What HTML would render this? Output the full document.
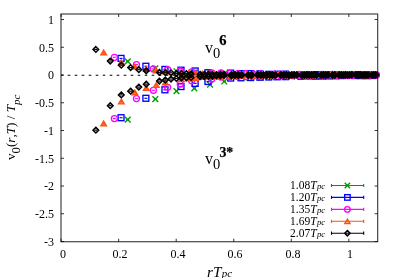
<!DOCTYPE html>
<html><head><meta charset="utf-8"><title>plot</title>
<style>
html,body{margin:0;padding:0;background:#fff}
#c{position:relative;width:398px;height:278px;overflow:hidden;background:#fff;font-family:"Liberation Serif",serif;color:#000}
.t{position:absolute;will-change:transform;white-space:nowrap;line-height:14px;font-size:12px}
.yl{right:344.4px;text-align:right}
.xl{width:40px;text-align:center;top:246.6px}
.lg{right:73.0px;text-align:right;font-size:11.5px}
.sb{font-size:8.7px;position:relative;top:0.2px;left:0.4px}
.big{font-size:16px;line-height:18px}
.sb0{font-size:14.5px;position:relative;top:5.2px}
.sp{-webkit-text-stroke:0.25px #000;font-size:14.5px;position:relative;top:-8.1px;left:-1.0px}
.sp3{font-size:13.8px;top:-7.5px;left:-0.8px}
.xt{left:206.5px;top:264.0px;font-size:15.2px;font-style:italic;line-height:16px}
.sbx{font-size:11px;position:relative;top:0.2px;left:0.3px}
.yt{left:3.9px;top:160.4px;transform-origin:0 0;transform:rotate(-90deg);font-size:13.2px;line-height:14px}
.sby{font-size:12.6px;position:relative;top:4.6px}
.sby2{font-size:11px;position:relative;top:4.5px}
</style></head><body>
<div id="c">
<svg width="398" height="278" viewBox="0 0 398 278" style="position:absolute;left:0;top:0">
<rect width="398" height="278" fill="#fff"/>
<path d="M61.0 75.25H377.65" stroke="#000" stroke-width="1.1" stroke-dasharray="2.6 4.4" stroke-dashoffset="0.3" fill="none"/>
<g><path d="M124.81 116.71L130.61 122.51M124.81 122.51L130.61 116.71" stroke="#009a00" stroke-width="1.35" fill="none"/><path d="M126.21 119.61H129.21" stroke="#009a00" stroke-width="1.15"/><path d="M152.40 96.21L158.20 102.01M152.40 102.01L158.20 96.21" stroke="#009a00" stroke-width="1.35" fill="none"/><path d="M153.80 99.11H156.80" stroke="#009a00" stroke-width="1.15"/><path d="M173.57 88.19L179.37 93.99M173.57 93.99L179.37 88.19" stroke="#009a00" stroke-width="1.35" fill="none"/><path d="M174.97 91.09H177.97" stroke="#009a00" stroke-width="1.15"/><path d="M191.42 85.48L197.22 91.28M191.42 91.28L197.22 85.48" stroke="#009a00" stroke-width="1.35" fill="none"/><path d="M192.82 88.38H195.82" stroke="#009a00" stroke-width="1.15"/><path d="M207.14 81.70L212.94 87.50M207.14 87.50L212.94 81.70" stroke="#009a00" stroke-width="1.35" fill="none"/><path d="M208.54 84.60H211.54" stroke="#009a00" stroke-width="1.15"/><path d="M221.36 78.59L227.16 84.39M221.36 84.39L227.16 78.59" stroke="#009a00" stroke-width="1.35" fill="none"/><path d="M222.76 81.49H225.76" stroke="#009a00" stroke-width="1.15"/><path d="M246.60 74.99L252.40 80.79M246.60 80.79L252.40 74.99" stroke="#009a00" stroke-width="1.35" fill="none"/><path d="M248.00 77.89H251.00" stroke="#009a00" stroke-width="1.15"/><path d="M258.03 74.65L263.83 80.45M258.03 80.45L263.83 74.65" stroke="#009a00" stroke-width="1.35" fill="none"/><path d="M259.43 77.55H262.43" stroke="#009a00" stroke-width="1.15"/><path d="M268.84 74.32L274.64 80.12M268.84 80.12L274.64 74.32" stroke="#009a00" stroke-width="1.35" fill="none"/><path d="M270.24 77.22H273.24" stroke="#009a00" stroke-width="1.15"/><path d="M279.12 74.04L284.92 79.84M279.12 79.84L284.92 74.04" stroke="#009a00" stroke-width="1.35" fill="none"/><path d="M280.52 76.94H283.52" stroke="#009a00" stroke-width="1.15"/><path d="M288.94 73.66L294.74 79.46M288.94 79.46L294.74 73.66" stroke="#009a00" stroke-width="1.35" fill="none"/><path d="M290.34 76.56H293.34" stroke="#009a00" stroke-width="1.15"/><path d="M298.36 73.57L304.16 79.37M298.36 79.37L304.16 73.57" stroke="#009a00" stroke-width="1.35" fill="none"/><path d="M299.76 76.47H302.76" stroke="#009a00" stroke-width="1.15"/><path d="M307.43 73.41L313.23 79.21M307.43 79.21L313.23 73.41" stroke="#009a00" stroke-width="1.35" fill="none"/><path d="M308.83 76.31H311.83" stroke="#009a00" stroke-width="1.15"/><path d="M324.64 73.24L330.44 79.04M324.64 79.04L330.44 73.24" stroke="#009a00" stroke-width="1.35" fill="none"/><path d="M326.04 76.14H329.04" stroke="#009a00" stroke-width="1.15"/><path d="M332.84 73.01L338.64 78.81M332.84 78.81L338.64 73.01" stroke="#009a00" stroke-width="1.35" fill="none"/><path d="M334.24 75.91H337.24" stroke="#009a00" stroke-width="1.15"/><path d="M340.80 72.70L346.60 78.50M340.80 78.50L346.60 72.70" stroke="#009a00" stroke-width="1.35" fill="none"/><path d="M342.20 75.60H345.20" stroke="#009a00" stroke-width="1.15"/><path d="M348.54 72.73L354.34 78.53M348.54 78.53L354.34 72.73" stroke="#009a00" stroke-width="1.35" fill="none"/><path d="M349.94 75.63H352.94" stroke="#009a00" stroke-width="1.15"/><path d="M356.08 72.56L361.88 78.36M356.08 78.36L361.88 72.56" stroke="#009a00" stroke-width="1.35" fill="none"/><path d="M357.48 75.46H360.48" stroke="#009a00" stroke-width="1.15"/><path d="M363.44 72.63L369.24 78.43M363.44 78.43L369.24 72.63" stroke="#009a00" stroke-width="1.35" fill="none"/><path d="M364.84 75.53H367.84" stroke="#009a00" stroke-width="1.15"/><path d="M370.62 72.55L376.42 78.35M370.62 78.35L376.42 72.55" stroke="#009a00" stroke-width="1.35" fill="none"/><path d="M372.02 75.45H375.02" stroke="#009a00" stroke-width="1.15"/><path d="M124.81 58.50L130.61 64.30M124.81 64.30L130.61 58.50" stroke="#009a00" stroke-width="1.35" fill="none"/><path d="M126.21 61.40H129.21" stroke="#009a00" stroke-width="1.15"/><path d="M152.40 65.46L158.20 71.26M152.40 71.26L158.20 65.46" stroke="#009a00" stroke-width="1.35" fill="none"/><path d="M153.80 68.36H156.80" stroke="#009a00" stroke-width="1.15"/><path d="M173.57 68.36L179.37 74.16M173.57 74.16L179.37 68.36" stroke="#009a00" stroke-width="1.35" fill="none"/><path d="M174.97 71.26H177.97" stroke="#009a00" stroke-width="1.15"/><path d="M191.42 69.67L197.22 75.47M191.42 75.47L197.22 69.67" stroke="#009a00" stroke-width="1.35" fill="none"/><path d="M192.82 72.57H195.82" stroke="#009a00" stroke-width="1.15"/><path d="M207.14 70.73L212.94 76.53M207.14 76.53L212.94 70.73" stroke="#009a00" stroke-width="1.35" fill="none"/><path d="M208.54 73.63H211.54" stroke="#009a00" stroke-width="1.15"/><path d="M221.36 70.77L227.16 76.57M221.36 76.57L227.16 70.77" stroke="#009a00" stroke-width="1.35" fill="none"/><path d="M222.76 73.67H225.76" stroke="#009a00" stroke-width="1.15"/><path d="M246.60 71.32L252.40 77.12M246.60 77.12L252.40 71.32" stroke="#009a00" stroke-width="1.35" fill="none"/><path d="M248.00 74.22H251.00" stroke="#009a00" stroke-width="1.15"/><path d="M258.03 71.47L263.83 77.27M258.03 77.27L263.83 71.47" stroke="#009a00" stroke-width="1.35" fill="none"/><path d="M259.43 74.37H262.43" stroke="#009a00" stroke-width="1.15"/><path d="M268.84 71.94L274.64 77.74M268.84 77.74L274.64 71.94" stroke="#009a00" stroke-width="1.35" fill="none"/><path d="M270.24 74.84H273.24" stroke="#009a00" stroke-width="1.15"/><path d="M279.12 72.04L284.92 77.84M279.12 77.84L284.92 72.04" stroke="#009a00" stroke-width="1.35" fill="none"/><path d="M280.52 74.94H283.52" stroke="#009a00" stroke-width="1.15"/><path d="M288.94 71.96L294.74 77.76M288.94 77.76L294.74 71.96" stroke="#009a00" stroke-width="1.35" fill="none"/><path d="M290.34 74.86H293.34" stroke="#009a00" stroke-width="1.15"/><path d="M298.36 71.94L304.16 77.74M298.36 77.74L304.16 71.94" stroke="#009a00" stroke-width="1.35" fill="none"/><path d="M299.76 74.84H302.76" stroke="#009a00" stroke-width="1.15"/><path d="M307.43 71.85L313.23 77.65M307.43 77.65L313.23 71.85" stroke="#009a00" stroke-width="1.35" fill="none"/><path d="M308.83 74.75H311.83" stroke="#009a00" stroke-width="1.15"/><path d="M324.64 71.96L330.44 77.76M324.64 77.76L330.44 71.96" stroke="#009a00" stroke-width="1.35" fill="none"/><path d="M326.04 74.86H329.04" stroke="#009a00" stroke-width="1.15"/><path d="M332.84 71.89L338.64 77.69M332.84 77.69L338.64 71.89" stroke="#009a00" stroke-width="1.35" fill="none"/><path d="M334.24 74.79H337.24" stroke="#009a00" stroke-width="1.15"/><path d="M340.80 72.10L346.60 77.90M340.80 77.90L346.60 72.10" stroke="#009a00" stroke-width="1.35" fill="none"/><path d="M342.20 75.00H345.20" stroke="#009a00" stroke-width="1.15"/><path d="M348.54 71.96L354.34 77.76M348.54 77.76L354.34 71.96" stroke="#009a00" stroke-width="1.35" fill="none"/><path d="M349.94 74.86H352.94" stroke="#009a00" stroke-width="1.15"/><path d="M356.08 71.96L361.88 77.76M356.08 77.76L361.88 71.96" stroke="#009a00" stroke-width="1.35" fill="none"/><path d="M357.48 74.86H360.48" stroke="#009a00" stroke-width="1.15"/><path d="M363.44 72.14L369.24 77.94M363.44 77.94L369.24 72.14" stroke="#009a00" stroke-width="1.35" fill="none"/><path d="M364.84 75.04H367.84" stroke="#009a00" stroke-width="1.15"/><path d="M370.62 71.75L376.42 77.55M370.62 77.55L376.42 71.75" stroke="#009a00" stroke-width="1.35" fill="none"/><path d="M372.02 74.65H375.02" stroke="#009a00" stroke-width="1.15"/></g>
<g><rect x="118.10" y="114.76" width="5.90" height="5.90" stroke="#0000ff" stroke-width="1.35" fill="none"/><path d="M119.55 117.71H122.55" stroke="#0000ff" stroke-width="1.15"/><rect x="142.93" y="95.32" width="5.90" height="5.90" stroke="#0000ff" stroke-width="1.35" fill="none"/><path d="M144.38 98.27H147.38" stroke="#0000ff" stroke-width="1.15"/><rect x="161.98" y="86.86" width="5.90" height="5.90" stroke="#0000ff" stroke-width="1.35" fill="none"/><path d="M163.43 89.81H166.43" stroke="#0000ff" stroke-width="1.15"/><rect x="178.05" y="83.63" width="5.90" height="5.90" stroke="#0000ff" stroke-width="1.35" fill="none"/><path d="M179.50 86.58H182.50" stroke="#0000ff" stroke-width="1.15"/><rect x="192.20" y="80.43" width="5.90" height="5.90" stroke="#0000ff" stroke-width="1.35" fill="none"/><path d="M193.65 83.38H196.65" stroke="#0000ff" stroke-width="1.15"/><rect x="204.99" y="78.54" width="5.90" height="5.90" stroke="#0000ff" stroke-width="1.35" fill="none"/><path d="M206.44 81.49H209.44" stroke="#0000ff" stroke-width="1.15"/><rect x="227.71" y="75.10" width="5.90" height="5.90" stroke="#0000ff" stroke-width="1.35" fill="none"/><path d="M229.16 78.05H232.16" stroke="#0000ff" stroke-width="1.15"/><rect x="237.99" y="74.83" width="5.90" height="5.90" stroke="#0000ff" stroke-width="1.35" fill="none"/><path d="M239.44 77.78H242.44" stroke="#0000ff" stroke-width="1.15"/><rect x="247.72" y="74.60" width="5.90" height="5.90" stroke="#0000ff" stroke-width="1.35" fill="none"/><path d="M249.17 77.55H252.17" stroke="#0000ff" stroke-width="1.15"/><rect x="256.97" y="74.27" width="5.90" height="5.90" stroke="#0000ff" stroke-width="1.35" fill="none"/><path d="M258.42 77.22H261.42" stroke="#0000ff" stroke-width="1.15"/><rect x="265.82" y="74.05" width="5.90" height="5.90" stroke="#0000ff" stroke-width="1.35" fill="none"/><path d="M267.27 77.00H270.27" stroke="#0000ff" stroke-width="1.15"/><rect x="274.30" y="73.83" width="5.90" height="5.90" stroke="#0000ff" stroke-width="1.35" fill="none"/><path d="M275.75 76.78H278.75" stroke="#0000ff" stroke-width="1.15"/><rect x="282.45" y="73.72" width="5.90" height="5.90" stroke="#0000ff" stroke-width="1.35" fill="none"/><path d="M283.90 76.67H286.90" stroke="#0000ff" stroke-width="1.15"/><rect x="297.94" y="73.28" width="5.90" height="5.90" stroke="#0000ff" stroke-width="1.35" fill="none"/><path d="M299.39 76.23H302.39" stroke="#0000ff" stroke-width="1.15"/><rect x="305.32" y="73.04" width="5.90" height="5.90" stroke="#0000ff" stroke-width="1.35" fill="none"/><path d="M306.77 75.99H309.77" stroke="#0000ff" stroke-width="1.15"/><rect x="312.49" y="73.23" width="5.90" height="5.90" stroke="#0000ff" stroke-width="1.35" fill="none"/><path d="M313.94 76.18H316.94" stroke="#0000ff" stroke-width="1.15"/><rect x="319.46" y="73.14" width="5.90" height="5.90" stroke="#0000ff" stroke-width="1.35" fill="none"/><path d="M320.91 76.09H323.91" stroke="#0000ff" stroke-width="1.15"/><rect x="326.25" y="72.99" width="5.90" height="5.90" stroke="#0000ff" stroke-width="1.35" fill="none"/><path d="M327.70 75.94H330.70" stroke="#0000ff" stroke-width="1.15"/><rect x="332.87" y="72.87" width="5.90" height="5.90" stroke="#0000ff" stroke-width="1.35" fill="none"/><path d="M334.32 75.82H337.32" stroke="#0000ff" stroke-width="1.15"/><rect x="339.33" y="72.68" width="5.90" height="5.90" stroke="#0000ff" stroke-width="1.35" fill="none"/><path d="M340.78 75.63H343.78" stroke="#0000ff" stroke-width="1.15"/><rect x="351.83" y="72.63" width="5.90" height="5.90" stroke="#0000ff" stroke-width="1.35" fill="none"/><path d="M353.28 75.58H356.28" stroke="#0000ff" stroke-width="1.15"/><rect x="357.89" y="72.69" width="5.90" height="5.90" stroke="#0000ff" stroke-width="1.35" fill="none"/><path d="M359.34 75.64H362.34" stroke="#0000ff" stroke-width="1.15"/><rect x="363.83" y="72.73" width="5.90" height="5.90" stroke="#0000ff" stroke-width="1.35" fill="none"/><path d="M365.28 75.68H368.28" stroke="#0000ff" stroke-width="1.15"/><rect x="369.65" y="72.62" width="5.90" height="5.90" stroke="#0000ff" stroke-width="1.35" fill="none"/><path d="M371.10 75.57H374.10" stroke="#0000ff" stroke-width="1.15"/><rect x="118.10" y="55.44" width="5.90" height="5.90" stroke="#0000ff" stroke-width="1.35" fill="none"/><path d="M119.55 58.39H122.55" stroke="#0000ff" stroke-width="1.15"/><rect x="142.93" y="63.30" width="5.90" height="5.90" stroke="#0000ff" stroke-width="1.35" fill="none"/><path d="M144.38 66.25H147.38" stroke="#0000ff" stroke-width="1.15"/><rect x="161.98" y="66.47" width="5.90" height="5.90" stroke="#0000ff" stroke-width="1.35" fill="none"/><path d="M163.43 69.42H166.43" stroke="#0000ff" stroke-width="1.15"/><rect x="178.05" y="67.25" width="5.90" height="5.90" stroke="#0000ff" stroke-width="1.35" fill="none"/><path d="M179.50 70.20H182.50" stroke="#0000ff" stroke-width="1.15"/><rect x="192.20" y="68.03" width="5.90" height="5.90" stroke="#0000ff" stroke-width="1.35" fill="none"/><path d="M193.65 70.98H196.65" stroke="#0000ff" stroke-width="1.15"/><rect x="204.99" y="69.77" width="5.90" height="5.90" stroke="#0000ff" stroke-width="1.35" fill="none"/><path d="M206.44 72.72H209.44" stroke="#0000ff" stroke-width="1.15"/><rect x="227.71" y="70.15" width="5.90" height="5.90" stroke="#0000ff" stroke-width="1.35" fill="none"/><path d="M229.16 73.10H232.16" stroke="#0000ff" stroke-width="1.15"/><rect x="237.99" y="70.70" width="5.90" height="5.90" stroke="#0000ff" stroke-width="1.35" fill="none"/><path d="M239.44 73.65H242.44" stroke="#0000ff" stroke-width="1.15"/><rect x="247.72" y="70.69" width="5.90" height="5.90" stroke="#0000ff" stroke-width="1.35" fill="none"/><path d="M249.17 73.64H252.17" stroke="#0000ff" stroke-width="1.15"/><rect x="256.97" y="70.87" width="5.90" height="5.90" stroke="#0000ff" stroke-width="1.35" fill="none"/><path d="M258.42 73.82H261.42" stroke="#0000ff" stroke-width="1.15"/><rect x="265.82" y="71.36" width="5.90" height="5.90" stroke="#0000ff" stroke-width="1.35" fill="none"/><path d="M267.27 74.31H270.27" stroke="#0000ff" stroke-width="1.15"/><rect x="274.30" y="71.24" width="5.90" height="5.90" stroke="#0000ff" stroke-width="1.35" fill="none"/><path d="M275.75 74.19H278.75" stroke="#0000ff" stroke-width="1.15"/><rect x="282.45" y="71.14" width="5.90" height="5.90" stroke="#0000ff" stroke-width="1.35" fill="none"/><path d="M283.90 74.09H286.90" stroke="#0000ff" stroke-width="1.15"/><rect x="297.94" y="71.86" width="5.90" height="5.90" stroke="#0000ff" stroke-width="1.35" fill="none"/><path d="M299.39 74.81H302.39" stroke="#0000ff" stroke-width="1.15"/><rect x="305.32" y="71.65" width="5.90" height="5.90" stroke="#0000ff" stroke-width="1.35" fill="none"/><path d="M306.77 74.60H309.77" stroke="#0000ff" stroke-width="1.15"/><rect x="312.49" y="71.67" width="5.90" height="5.90" stroke="#0000ff" stroke-width="1.35" fill="none"/><path d="M313.94 74.62H316.94" stroke="#0000ff" stroke-width="1.15"/><rect x="319.46" y="71.83" width="5.90" height="5.90" stroke="#0000ff" stroke-width="1.35" fill="none"/><path d="M320.91 74.78H323.91" stroke="#0000ff" stroke-width="1.15"/><rect x="326.25" y="71.65" width="5.90" height="5.90" stroke="#0000ff" stroke-width="1.35" fill="none"/><path d="M327.70 74.60H330.70" stroke="#0000ff" stroke-width="1.15"/><rect x="332.87" y="71.78" width="5.90" height="5.90" stroke="#0000ff" stroke-width="1.35" fill="none"/><path d="M334.32 74.73H337.32" stroke="#0000ff" stroke-width="1.15"/><rect x="339.33" y="72.04" width="5.90" height="5.90" stroke="#0000ff" stroke-width="1.35" fill="none"/><path d="M340.78 74.99H343.78" stroke="#0000ff" stroke-width="1.15"/><rect x="351.83" y="71.71" width="5.90" height="5.90" stroke="#0000ff" stroke-width="1.35" fill="none"/><path d="M353.28 74.66H356.28" stroke="#0000ff" stroke-width="1.15"/><rect x="357.89" y="71.76" width="5.90" height="5.90" stroke="#0000ff" stroke-width="1.35" fill="none"/><path d="M359.34 74.71H362.34" stroke="#0000ff" stroke-width="1.15"/><rect x="363.83" y="71.73" width="5.90" height="5.90" stroke="#0000ff" stroke-width="1.35" fill="none"/><path d="M365.28 74.68H368.28" stroke="#0000ff" stroke-width="1.15"/><rect x="369.65" y="71.66" width="5.90" height="5.90" stroke="#0000ff" stroke-width="1.35" fill="none"/><path d="M371.10 74.61H374.10" stroke="#0000ff" stroke-width="1.15"/></g>
<g><circle cx="114.39" cy="118.6" r="3.00" stroke="#ff00ff" stroke-width="1.35" fill="none"/><path d="M112.89 118.60H115.89" stroke="#ff00ff" stroke-width="1.15"/><circle cx="136.46" cy="98.55" r="3.00" stroke="#ff00ff" stroke-width="1.35" fill="none"/><path d="M134.96 98.55H137.96" stroke="#ff00ff" stroke-width="1.15"/><circle cx="153.4" cy="90.31" r="3.00" stroke="#ff00ff" stroke-width="1.35" fill="none"/><path d="M151.90 90.31H154.90" stroke="#ff00ff" stroke-width="1.15"/><circle cx="167.67" cy="87.3" r="3.00" stroke="#ff00ff" stroke-width="1.35" fill="none"/><path d="M166.17 87.30H169.17" stroke="#ff00ff" stroke-width="1.15"/><circle cx="180.25" cy="84.01" r="3.00" stroke="#ff00ff" stroke-width="1.35" fill="none"/><path d="M178.75 84.01H181.75" stroke="#ff00ff" stroke-width="1.15"/><circle cx="191.63" cy="80.83" r="3.00" stroke="#ff00ff" stroke-width="1.35" fill="none"/><path d="M190.13 80.83H193.13" stroke="#ff00ff" stroke-width="1.15"/><circle cx="211.82" cy="79.0" r="3.00" stroke="#ff00ff" stroke-width="1.35" fill="none"/><path d="M210.32 79.00H213.32" stroke="#ff00ff" stroke-width="1.15"/><circle cx="220.96" cy="77.0" r="3.00" stroke="#ff00ff" stroke-width="1.35" fill="none"/><path d="M219.46 77.00H222.46" stroke="#ff00ff" stroke-width="1.15"/><circle cx="229.61" cy="76.65" r="3.00" stroke="#ff00ff" stroke-width="1.35" fill="none"/><path d="M228.11 76.65H231.11" stroke="#ff00ff" stroke-width="1.15"/><circle cx="237.83" cy="76.45" r="3.00" stroke="#ff00ff" stroke-width="1.35" fill="none"/><path d="M236.33 76.45H239.33" stroke="#ff00ff" stroke-width="1.15"/><circle cx="245.69" cy="76.5" r="3.00" stroke="#ff00ff" stroke-width="1.35" fill="none"/><path d="M244.19 76.50H247.19" stroke="#ff00ff" stroke-width="1.15"/><circle cx="253.23" cy="76.02" r="3.00" stroke="#ff00ff" stroke-width="1.35" fill="none"/><path d="M251.73 76.02H254.73" stroke="#ff00ff" stroke-width="1.15"/><circle cx="260.48" cy="76.09" r="3.00" stroke="#ff00ff" stroke-width="1.35" fill="none"/><path d="M258.98 76.09H261.98" stroke="#ff00ff" stroke-width="1.15"/><circle cx="274.25" cy="75.86" r="3.00" stroke="#ff00ff" stroke-width="1.35" fill="none"/><path d="M272.75 75.86H275.75" stroke="#ff00ff" stroke-width="1.15"/><circle cx="280.81" cy="75.91" r="3.00" stroke="#ff00ff" stroke-width="1.35" fill="none"/><path d="M279.31 75.91H282.31" stroke="#ff00ff" stroke-width="1.15"/><circle cx="287.18" cy="75.79" r="3.00" stroke="#ff00ff" stroke-width="1.35" fill="none"/><path d="M285.68 75.79H288.68" stroke="#ff00ff" stroke-width="1.15"/><circle cx="293.37" cy="75.66" r="3.00" stroke="#ff00ff" stroke-width="1.35" fill="none"/><path d="M291.87 75.66H294.87" stroke="#ff00ff" stroke-width="1.15"/><circle cx="299.41" cy="75.3" r="3.00" stroke="#ff00ff" stroke-width="1.35" fill="none"/><path d="M297.91 75.30H300.91" stroke="#ff00ff" stroke-width="1.15"/><circle cx="305.29" cy="75.81" r="3.00" stroke="#ff00ff" stroke-width="1.35" fill="none"/><path d="M303.79 75.81H306.79" stroke="#ff00ff" stroke-width="1.15"/><circle cx="311.04" cy="75.67" r="3.00" stroke="#ff00ff" stroke-width="1.35" fill="none"/><path d="M309.54 75.67H312.54" stroke="#ff00ff" stroke-width="1.15"/><circle cx="322.15" cy="75.32" r="3.00" stroke="#ff00ff" stroke-width="1.35" fill="none"/><path d="M320.65 75.32H323.65" stroke="#ff00ff" stroke-width="1.15"/><circle cx="327.54" cy="75.09" r="3.00" stroke="#ff00ff" stroke-width="1.35" fill="none"/><path d="M326.04 75.09H329.04" stroke="#ff00ff" stroke-width="1.15"/><circle cx="332.81" cy="75.21" r="3.00" stroke="#ff00ff" stroke-width="1.35" fill="none"/><path d="M331.31 75.21H334.31" stroke="#ff00ff" stroke-width="1.15"/><circle cx="337.99" cy="75.59" r="3.00" stroke="#ff00ff" stroke-width="1.35" fill="none"/><path d="M336.49 75.59H339.49" stroke="#ff00ff" stroke-width="1.15"/><circle cx="348.06" cy="75.66" r="3.00" stroke="#ff00ff" stroke-width="1.35" fill="none"/><path d="M346.56 75.66H349.56" stroke="#ff00ff" stroke-width="1.15"/><circle cx="352.97" cy="75.16" r="3.00" stroke="#ff00ff" stroke-width="1.35" fill="none"/><path d="M351.47 75.16H354.47" stroke="#ff00ff" stroke-width="1.15"/><circle cx="362.54" cy="75.31" r="3.00" stroke="#ff00ff" stroke-width="1.35" fill="none"/><path d="M361.04 75.31H364.04" stroke="#ff00ff" stroke-width="1.15"/><circle cx="367.21" cy="75.36" r="3.00" stroke="#ff00ff" stroke-width="1.35" fill="none"/><path d="M365.71 75.36H368.71" stroke="#ff00ff" stroke-width="1.15"/><circle cx="371.81" cy="75.0" r="3.00" stroke="#ff00ff" stroke-width="1.35" fill="none"/><path d="M370.31 75.00H373.31" stroke="#ff00ff" stroke-width="1.15"/><circle cx="376.35" cy="74.97" r="3.00" stroke="#ff00ff" stroke-width="1.35" fill="none"/><path d="M374.85 74.97H377.85" stroke="#ff00ff" stroke-width="1.15"/><circle cx="114.39" cy="57.3" r="3.00" stroke="#ff00ff" stroke-width="1.35" fill="none"/><path d="M112.89 57.30H115.89" stroke="#ff00ff" stroke-width="1.15"/><circle cx="136.46" cy="64.57" r="3.00" stroke="#ff00ff" stroke-width="1.35" fill="none"/><path d="M134.96 64.57H137.96" stroke="#ff00ff" stroke-width="1.15"/><circle cx="153.4" cy="68.92" r="3.00" stroke="#ff00ff" stroke-width="1.35" fill="none"/><path d="M151.90 68.92H154.90" stroke="#ff00ff" stroke-width="1.15"/><circle cx="167.67" cy="69.7" r="3.00" stroke="#ff00ff" stroke-width="1.35" fill="none"/><path d="M166.17 69.70H169.17" stroke="#ff00ff" stroke-width="1.15"/><circle cx="180.25" cy="70.96" r="3.00" stroke="#ff00ff" stroke-width="1.35" fill="none"/><path d="M178.75 70.96H181.75" stroke="#ff00ff" stroke-width="1.15"/><circle cx="191.63" cy="71.81" r="3.00" stroke="#ff00ff" stroke-width="1.35" fill="none"/><path d="M190.13 71.81H193.13" stroke="#ff00ff" stroke-width="1.15"/><circle cx="211.82" cy="72.83" r="3.00" stroke="#ff00ff" stroke-width="1.35" fill="none"/><path d="M210.32 72.83H213.32" stroke="#ff00ff" stroke-width="1.15"/><circle cx="220.96" cy="72.95" r="3.00" stroke="#ff00ff" stroke-width="1.35" fill="none"/><path d="M219.46 72.95H222.46" stroke="#ff00ff" stroke-width="1.15"/><circle cx="229.61" cy="73.37" r="3.00" stroke="#ff00ff" stroke-width="1.35" fill="none"/><path d="M228.11 73.37H231.11" stroke="#ff00ff" stroke-width="1.15"/><circle cx="237.83" cy="73.58" r="3.00" stroke="#ff00ff" stroke-width="1.35" fill="none"/><path d="M236.33 73.58H239.33" stroke="#ff00ff" stroke-width="1.15"/><circle cx="245.69" cy="73.74" r="3.00" stroke="#ff00ff" stroke-width="1.35" fill="none"/><path d="M244.19 73.74H247.19" stroke="#ff00ff" stroke-width="1.15"/><circle cx="253.23" cy="74.23" r="3.00" stroke="#ff00ff" stroke-width="1.35" fill="none"/><path d="M251.73 74.23H254.73" stroke="#ff00ff" stroke-width="1.15"/><circle cx="260.48" cy="73.88" r="3.00" stroke="#ff00ff" stroke-width="1.35" fill="none"/><path d="M258.98 73.88H261.98" stroke="#ff00ff" stroke-width="1.15"/><circle cx="274.25" cy="74.11" r="3.00" stroke="#ff00ff" stroke-width="1.35" fill="none"/><path d="M272.75 74.11H275.75" stroke="#ff00ff" stroke-width="1.15"/><circle cx="280.81" cy="74.26" r="3.00" stroke="#ff00ff" stroke-width="1.35" fill="none"/><path d="M279.31 74.26H282.31" stroke="#ff00ff" stroke-width="1.15"/><circle cx="287.18" cy="74.74" r="3.00" stroke="#ff00ff" stroke-width="1.35" fill="none"/><path d="M285.68 74.74H288.68" stroke="#ff00ff" stroke-width="1.15"/><circle cx="293.37" cy="74.57" r="3.00" stroke="#ff00ff" stroke-width="1.35" fill="none"/><path d="M291.87 74.57H294.87" stroke="#ff00ff" stroke-width="1.15"/><circle cx="299.41" cy="74.37" r="3.00" stroke="#ff00ff" stroke-width="1.35" fill="none"/><path d="M297.91 74.37H300.91" stroke="#ff00ff" stroke-width="1.15"/><circle cx="305.29" cy="74.85" r="3.00" stroke="#ff00ff" stroke-width="1.35" fill="none"/><path d="M303.79 74.85H306.79" stroke="#ff00ff" stroke-width="1.15"/><circle cx="311.04" cy="74.62" r="3.00" stroke="#ff00ff" stroke-width="1.35" fill="none"/><path d="M309.54 74.62H312.54" stroke="#ff00ff" stroke-width="1.15"/><circle cx="322.15" cy="74.49" r="3.00" stroke="#ff00ff" stroke-width="1.35" fill="none"/><path d="M320.65 74.49H323.65" stroke="#ff00ff" stroke-width="1.15"/><circle cx="327.54" cy="74.9" r="3.00" stroke="#ff00ff" stroke-width="1.35" fill="none"/><path d="M326.04 74.90H329.04" stroke="#ff00ff" stroke-width="1.15"/><circle cx="332.81" cy="74.44" r="3.00" stroke="#ff00ff" stroke-width="1.35" fill="none"/><path d="M331.31 74.44H334.31" stroke="#ff00ff" stroke-width="1.15"/><circle cx="337.99" cy="74.64" r="3.00" stroke="#ff00ff" stroke-width="1.35" fill="none"/><path d="M336.49 74.64H339.49" stroke="#ff00ff" stroke-width="1.15"/><circle cx="348.06" cy="74.79" r="3.00" stroke="#ff00ff" stroke-width="1.35" fill="none"/><path d="M346.56 74.79H349.56" stroke="#ff00ff" stroke-width="1.15"/><circle cx="352.97" cy="74.73" r="3.00" stroke="#ff00ff" stroke-width="1.35" fill="none"/><path d="M351.47 74.73H354.47" stroke="#ff00ff" stroke-width="1.15"/><circle cx="362.54" cy="74.7" r="3.00" stroke="#ff00ff" stroke-width="1.35" fill="none"/><path d="M361.04 74.70H364.04" stroke="#ff00ff" stroke-width="1.15"/><circle cx="367.21" cy="74.8" r="3.00" stroke="#ff00ff" stroke-width="1.35" fill="none"/><path d="M365.71 74.80H368.71" stroke="#ff00ff" stroke-width="1.15"/><circle cx="371.81" cy="74.64" r="3.00" stroke="#ff00ff" stroke-width="1.35" fill="none"/><path d="M370.31 74.64H373.31" stroke="#ff00ff" stroke-width="1.15"/><circle cx="376.35" cy="74.96" r="3.00" stroke="#ff00ff" stroke-width="1.35" fill="none"/><path d="M374.85 74.96H377.85" stroke="#ff00ff" stroke-width="1.15"/></g>
<g><path d="M103.67 121.09L106.47 125.74L100.87 125.74Z" stroke="#ff5014" stroke-width="1.35" fill="#ff5014" fill-opacity="0.8" stroke-linejoin="miter"/><path d="M102.17 123.39H105.17" stroke="#ff5014" stroke-width="1.15"/><path d="M121.30 99.20L124.10 103.85L118.50 103.85Z" stroke="#ff5014" stroke-width="1.35" fill="#ff5014" fill-opacity="0.8" stroke-linejoin="miter"/><path d="M119.80 101.50H122.80" stroke="#ff5014" stroke-width="1.15"/><path d="M134.83 90.12L137.63 94.77L132.03 94.77Z" stroke="#ff5014" stroke-width="1.35" fill="#ff5014" fill-opacity="0.8" stroke-linejoin="miter"/><path d="M133.33 92.42H136.33" stroke="#ff5014" stroke-width="1.15"/><path d="M146.23 85.69L149.03 90.34L143.43 90.34Z" stroke="#ff5014" stroke-width="1.35" fill="#ff5014" fill-opacity="0.8" stroke-linejoin="miter"/><path d="M144.73 87.99H147.73" stroke="#ff5014" stroke-width="1.15"/><path d="M156.28 82.75L159.08 87.40L153.48 87.40Z" stroke="#ff5014" stroke-width="1.35" fill="#ff5014" fill-opacity="0.8" stroke-linejoin="miter"/><path d="M154.78 85.05H157.78" stroke="#ff5014" stroke-width="1.15"/><path d="M165.37 80.12L168.17 84.77L162.57 84.77Z" stroke="#ff5014" stroke-width="1.35" fill="#ff5014" fill-opacity="0.8" stroke-linejoin="miter"/><path d="M163.87 82.42H166.87" stroke="#ff5014" stroke-width="1.15"/><path d="M181.50 76.83L184.30 81.48L178.70 81.48Z" stroke="#ff5014" stroke-width="1.35" fill="#ff5014" fill-opacity="0.8" stroke-linejoin="miter"/><path d="M180.00 79.13H183.00" stroke="#ff5014" stroke-width="1.15"/><path d="M188.80 76.09L191.60 80.74L186.00 80.74Z" stroke="#ff5014" stroke-width="1.35" fill="#ff5014" fill-opacity="0.8" stroke-linejoin="miter"/><path d="M187.30 78.39H190.30" stroke="#ff5014" stroke-width="1.15"/><path d="M195.71 75.57L198.51 80.22L192.91 80.22Z" stroke="#ff5014" stroke-width="1.35" fill="#ff5014" fill-opacity="0.8" stroke-linejoin="miter"/><path d="M194.21 77.87H197.21" stroke="#ff5014" stroke-width="1.15"/><path d="M202.28 74.75L205.08 79.40L199.48 79.40Z" stroke="#ff5014" stroke-width="1.35" fill="#ff5014" fill-opacity="0.8" stroke-linejoin="miter"/><path d="M200.78 77.05H203.78" stroke="#ff5014" stroke-width="1.15"/><path d="M208.55 74.27L211.35 78.92L205.75 78.92Z" stroke="#ff5014" stroke-width="1.35" fill="#ff5014" fill-opacity="0.8" stroke-linejoin="miter"/><path d="M207.05 76.57H210.05" stroke="#ff5014" stroke-width="1.15"/><path d="M214.58 74.28L217.38 78.93L211.78 78.93Z" stroke="#ff5014" stroke-width="1.35" fill="#ff5014" fill-opacity="0.8" stroke-linejoin="miter"/><path d="M213.08 76.58H216.08" stroke="#ff5014" stroke-width="1.15"/><path d="M220.37 74.19L223.17 78.84L217.57 78.84Z" stroke="#ff5014" stroke-width="1.35" fill="#ff5014" fill-opacity="0.8" stroke-linejoin="miter"/><path d="M218.87 76.49H221.87" stroke="#ff5014" stroke-width="1.15"/><path d="M231.37 73.63L234.17 78.28L228.57 78.28Z" stroke="#ff5014" stroke-width="1.35" fill="#ff5014" fill-opacity="0.8" stroke-linejoin="miter"/><path d="M229.87 75.93H232.87" stroke="#ff5014" stroke-width="1.15"/><path d="M236.61 73.50L239.41 78.15L233.81 78.15Z" stroke="#ff5014" stroke-width="1.35" fill="#ff5014" fill-opacity="0.8" stroke-linejoin="miter"/><path d="M235.11 75.80H238.11" stroke="#ff5014" stroke-width="1.15"/><path d="M241.69 73.41L244.49 78.06L238.89 78.06Z" stroke="#ff5014" stroke-width="1.35" fill="#ff5014" fill-opacity="0.8" stroke-linejoin="miter"/><path d="M240.19 75.71H243.19" stroke="#ff5014" stroke-width="1.15"/><path d="M246.64 73.04L249.44 77.69L243.84 77.69Z" stroke="#ff5014" stroke-width="1.35" fill="#ff5014" fill-opacity="0.8" stroke-linejoin="miter"/><path d="M245.14 75.34H248.14" stroke="#ff5014" stroke-width="1.15"/><path d="M251.46 73.37L254.26 78.02L248.66 78.02Z" stroke="#ff5014" stroke-width="1.35" fill="#ff5014" fill-opacity="0.8" stroke-linejoin="miter"/><path d="M249.96 75.67H252.96" stroke="#ff5014" stroke-width="1.15"/><path d="M256.16 72.92L258.96 77.57L253.36 77.57Z" stroke="#ff5014" stroke-width="1.35" fill="#ff5014" fill-opacity="0.8" stroke-linejoin="miter"/><path d="M254.66 75.22H257.66" stroke="#ff5014" stroke-width="1.15"/><path d="M260.75 73.29L263.55 77.94L257.95 77.94Z" stroke="#ff5014" stroke-width="1.35" fill="#ff5014" fill-opacity="0.8" stroke-linejoin="miter"/><path d="M259.25 75.59H262.25" stroke="#ff5014" stroke-width="1.15"/><path d="M269.63 73.12L272.43 77.77L266.83 77.77Z" stroke="#ff5014" stroke-width="1.35" fill="#ff5014" fill-opacity="0.8" stroke-linejoin="miter"/><path d="M268.13 75.42H271.13" stroke="#ff5014" stroke-width="1.15"/><path d="M273.93 72.85L276.73 77.50L271.13 77.50Z" stroke="#ff5014" stroke-width="1.35" fill="#ff5014" fill-opacity="0.8" stroke-linejoin="miter"/><path d="M272.43 75.15H275.43" stroke="#ff5014" stroke-width="1.15"/><path d="M278.15 72.74L280.95 77.39L275.35 77.39Z" stroke="#ff5014" stroke-width="1.35" fill="#ff5014" fill-opacity="0.8" stroke-linejoin="miter"/><path d="M276.65 75.04H279.65" stroke="#ff5014" stroke-width="1.15"/><path d="M282.28 72.76L285.08 77.41L279.48 77.41Z" stroke="#ff5014" stroke-width="1.35" fill="#ff5014" fill-opacity="0.8" stroke-linejoin="miter"/><path d="M280.78 75.06H283.78" stroke="#ff5014" stroke-width="1.15"/><path d="M290.33 72.80L293.13 77.45L287.53 77.45Z" stroke="#ff5014" stroke-width="1.35" fill="#ff5014" fill-opacity="0.8" stroke-linejoin="miter"/><path d="M288.83 75.10H291.83" stroke="#ff5014" stroke-width="1.15"/><path d="M294.25 72.82L297.05 77.47L291.45 77.47Z" stroke="#ff5014" stroke-width="1.35" fill="#ff5014" fill-opacity="0.8" stroke-linejoin="miter"/><path d="M292.75 75.12H295.75" stroke="#ff5014" stroke-width="1.15"/><path d="M301.89 72.79L304.69 77.44L299.09 77.44Z" stroke="#ff5014" stroke-width="1.35" fill="#ff5014" fill-opacity="0.8" stroke-linejoin="miter"/><path d="M300.39 75.09H303.39" stroke="#ff5014" stroke-width="1.15"/><path d="M305.63 72.71L308.43 77.36L302.83 77.36Z" stroke="#ff5014" stroke-width="1.35" fill="#ff5014" fill-opacity="0.8" stroke-linejoin="miter"/><path d="M304.13 75.01H307.13" stroke="#ff5014" stroke-width="1.15"/><path d="M309.30 72.82L312.10 77.47L306.50 77.47Z" stroke="#ff5014" stroke-width="1.35" fill="#ff5014" fill-opacity="0.8" stroke-linejoin="miter"/><path d="M307.80 75.12H310.80" stroke="#ff5014" stroke-width="1.15"/><path d="M312.93 72.74L315.73 77.39L310.13 77.39Z" stroke="#ff5014" stroke-width="1.35" fill="#ff5014" fill-opacity="0.8" stroke-linejoin="miter"/><path d="M311.43 75.04H314.43" stroke="#ff5014" stroke-width="1.15"/><path d="M316.50 72.68L319.30 77.33L313.70 77.33Z" stroke="#ff5014" stroke-width="1.35" fill="#ff5014" fill-opacity="0.8" stroke-linejoin="miter"/><path d="M315.00 74.98H318.00" stroke="#ff5014" stroke-width="1.15"/><path d="M320.02 72.77L322.82 77.42L317.22 77.42Z" stroke="#ff5014" stroke-width="1.35" fill="#ff5014" fill-opacity="0.8" stroke-linejoin="miter"/><path d="M318.52 75.07H321.52" stroke="#ff5014" stroke-width="1.15"/><path d="M323.50 72.64L326.30 77.29L320.70 77.29Z" stroke="#ff5014" stroke-width="1.35" fill="#ff5014" fill-opacity="0.8" stroke-linejoin="miter"/><path d="M322.00 74.94H325.00" stroke="#ff5014" stroke-width="1.15"/><path d="M330.31 72.66L333.11 77.31L327.51 77.31Z" stroke="#ff5014" stroke-width="1.35" fill="#ff5014" fill-opacity="0.8" stroke-linejoin="miter"/><path d="M328.81 74.96H331.81" stroke="#ff5014" stroke-width="1.15"/><path d="M333.66 72.41L336.46 77.06L330.86 77.06Z" stroke="#ff5014" stroke-width="1.35" fill="#ff5014" fill-opacity="0.8" stroke-linejoin="miter"/><path d="M332.16 74.71H335.16" stroke="#ff5014" stroke-width="1.15"/><path d="M336.96 72.69L339.76 77.34L334.16 77.34Z" stroke="#ff5014" stroke-width="1.35" fill="#ff5014" fill-opacity="0.8" stroke-linejoin="miter"/><path d="M335.46 74.99H338.46" stroke="#ff5014" stroke-width="1.15"/><path d="M340.23 72.81L343.03 77.46L337.43 77.46Z" stroke="#ff5014" stroke-width="1.35" fill="#ff5014" fill-opacity="0.8" stroke-linejoin="miter"/><path d="M338.73 75.11H341.73" stroke="#ff5014" stroke-width="1.15"/><path d="M343.45 72.80L346.25 77.45L340.65 77.45Z" stroke="#ff5014" stroke-width="1.35" fill="#ff5014" fill-opacity="0.8" stroke-linejoin="miter"/><path d="M341.95 75.10H344.95" stroke="#ff5014" stroke-width="1.15"/><path d="M346.65 72.73L349.45 77.38L343.85 77.38Z" stroke="#ff5014" stroke-width="1.35" fill="#ff5014" fill-opacity="0.8" stroke-linejoin="miter"/><path d="M345.15 75.03H348.15" stroke="#ff5014" stroke-width="1.15"/><path d="M349.80 72.58L352.60 77.23L347.00 77.23Z" stroke="#ff5014" stroke-width="1.35" fill="#ff5014" fill-opacity="0.8" stroke-linejoin="miter"/><path d="M348.30 74.88H351.30" stroke="#ff5014" stroke-width="1.15"/><path d="M356.01 72.78L358.81 77.43L353.21 77.43Z" stroke="#ff5014" stroke-width="1.35" fill="#ff5014" fill-opacity="0.8" stroke-linejoin="miter"/><path d="M354.51 75.08H357.51" stroke="#ff5014" stroke-width="1.15"/><path d="M359.07 72.66L361.87 77.31L356.27 77.31Z" stroke="#ff5014" stroke-width="1.35" fill="#ff5014" fill-opacity="0.8" stroke-linejoin="miter"/><path d="M357.57 74.96H360.57" stroke="#ff5014" stroke-width="1.15"/><path d="M362.09 72.42L364.89 77.07L359.29 77.07Z" stroke="#ff5014" stroke-width="1.35" fill="#ff5014" fill-opacity="0.8" stroke-linejoin="miter"/><path d="M360.59 74.72H363.59" stroke="#ff5014" stroke-width="1.15"/><path d="M365.09 73.15L367.89 77.80L362.29 77.80Z" stroke="#ff5014" stroke-width="1.35" fill="#ff5014" fill-opacity="0.8" stroke-linejoin="miter"/><path d="M363.59 75.45H366.59" stroke="#ff5014" stroke-width="1.15"/><path d="M368.05 72.91L370.85 77.56L365.25 77.56Z" stroke="#ff5014" stroke-width="1.35" fill="#ff5014" fill-opacity="0.8" stroke-linejoin="miter"/><path d="M366.55 75.21H369.55" stroke="#ff5014" stroke-width="1.15"/><path d="M370.99 72.68L373.79 77.33L368.19 77.33Z" stroke="#ff5014" stroke-width="1.35" fill="#ff5014" fill-opacity="0.8" stroke-linejoin="miter"/><path d="M369.49 74.98H372.49" stroke="#ff5014" stroke-width="1.15"/><path d="M373.90 72.65L376.70 77.30L371.10 77.30Z" stroke="#ff5014" stroke-width="1.35" fill="#ff5014" fill-opacity="0.8" stroke-linejoin="miter"/><path d="M372.40 74.95H375.40" stroke="#ff5014" stroke-width="1.15"/><path d="M103.67 50.08L106.47 54.73L100.87 54.73Z" stroke="#ff5014" stroke-width="1.35" fill="#ff5014" fill-opacity="0.8" stroke-linejoin="miter"/><path d="M102.17 52.38H105.17" stroke="#ff5014" stroke-width="1.15"/><path d="M121.30 59.88L124.10 64.53L118.50 64.53Z" stroke="#ff5014" stroke-width="1.35" fill="#ff5014" fill-opacity="0.8" stroke-linejoin="miter"/><path d="M119.80 62.18H122.80" stroke="#ff5014" stroke-width="1.15"/><path d="M134.83 64.39L137.63 69.04L132.03 69.04Z" stroke="#ff5014" stroke-width="1.35" fill="#ff5014" fill-opacity="0.8" stroke-linejoin="miter"/><path d="M133.33 66.69H136.33" stroke="#ff5014" stroke-width="1.15"/><path d="M146.23 66.72L149.03 71.37L143.43 71.37Z" stroke="#ff5014" stroke-width="1.35" fill="#ff5014" fill-opacity="0.8" stroke-linejoin="miter"/><path d="M144.73 69.02H147.73" stroke="#ff5014" stroke-width="1.15"/><path d="M156.28 68.28L159.08 72.93L153.48 72.93Z" stroke="#ff5014" stroke-width="1.35" fill="#ff5014" fill-opacity="0.8" stroke-linejoin="miter"/><path d="M154.78 70.58H157.78" stroke="#ff5014" stroke-width="1.15"/><path d="M165.37 69.07L168.17 73.72L162.57 73.72Z" stroke="#ff5014" stroke-width="1.35" fill="#ff5014" fill-opacity="0.8" stroke-linejoin="miter"/><path d="M163.87 71.37H166.87" stroke="#ff5014" stroke-width="1.15"/><path d="M181.50 70.32L184.30 74.97L178.70 74.97Z" stroke="#ff5014" stroke-width="1.35" fill="#ff5014" fill-opacity="0.8" stroke-linejoin="miter"/><path d="M180.00 72.62H183.00" stroke="#ff5014" stroke-width="1.15"/><path d="M188.80 70.82L191.60 75.47L186.00 75.47Z" stroke="#ff5014" stroke-width="1.35" fill="#ff5014" fill-opacity="0.8" stroke-linejoin="miter"/><path d="M187.30 73.12H190.30" stroke="#ff5014" stroke-width="1.15"/><path d="M195.71 70.62L198.51 75.27L192.91 75.27Z" stroke="#ff5014" stroke-width="1.35" fill="#ff5014" fill-opacity="0.8" stroke-linejoin="miter"/><path d="M194.21 72.92H197.21" stroke="#ff5014" stroke-width="1.15"/><path d="M202.28 71.20L205.08 75.85L199.48 75.85Z" stroke="#ff5014" stroke-width="1.35" fill="#ff5014" fill-opacity="0.8" stroke-linejoin="miter"/><path d="M200.78 73.50H203.78" stroke="#ff5014" stroke-width="1.15"/><path d="M208.55 71.54L211.35 76.19L205.75 76.19Z" stroke="#ff5014" stroke-width="1.35" fill="#ff5014" fill-opacity="0.8" stroke-linejoin="miter"/><path d="M207.05 73.84H210.05" stroke="#ff5014" stroke-width="1.15"/><path d="M214.58 71.62L217.38 76.27L211.78 76.27Z" stroke="#ff5014" stroke-width="1.35" fill="#ff5014" fill-opacity="0.8" stroke-linejoin="miter"/><path d="M213.08 73.92H216.08" stroke="#ff5014" stroke-width="1.15"/><path d="M220.37 71.77L223.17 76.42L217.57 76.42Z" stroke="#ff5014" stroke-width="1.35" fill="#ff5014" fill-opacity="0.8" stroke-linejoin="miter"/><path d="M218.87 74.07H221.87" stroke="#ff5014" stroke-width="1.15"/><path d="M231.37 71.95L234.17 76.60L228.57 76.60Z" stroke="#ff5014" stroke-width="1.35" fill="#ff5014" fill-opacity="0.8" stroke-linejoin="miter"/><path d="M229.87 74.25H232.87" stroke="#ff5014" stroke-width="1.15"/><path d="M236.61 72.47L239.41 77.12L233.81 77.12Z" stroke="#ff5014" stroke-width="1.35" fill="#ff5014" fill-opacity="0.8" stroke-linejoin="miter"/><path d="M235.11 74.77H238.11" stroke="#ff5014" stroke-width="1.15"/><path d="M241.69 72.17L244.49 76.82L238.89 76.82Z" stroke="#ff5014" stroke-width="1.35" fill="#ff5014" fill-opacity="0.8" stroke-linejoin="miter"/><path d="M240.19 74.47H243.19" stroke="#ff5014" stroke-width="1.15"/><path d="M246.64 71.98L249.44 76.63L243.84 76.63Z" stroke="#ff5014" stroke-width="1.35" fill="#ff5014" fill-opacity="0.8" stroke-linejoin="miter"/><path d="M245.14 74.28H248.14" stroke="#ff5014" stroke-width="1.15"/><path d="M251.46 72.40L254.26 77.05L248.66 77.05Z" stroke="#ff5014" stroke-width="1.35" fill="#ff5014" fill-opacity="0.8" stroke-linejoin="miter"/><path d="M249.96 74.70H252.96" stroke="#ff5014" stroke-width="1.15"/><path d="M256.16 72.26L258.96 76.91L253.36 76.91Z" stroke="#ff5014" stroke-width="1.35" fill="#ff5014" fill-opacity="0.8" stroke-linejoin="miter"/><path d="M254.66 74.56H257.66" stroke="#ff5014" stroke-width="1.15"/><path d="M260.75 72.13L263.55 76.78L257.95 76.78Z" stroke="#ff5014" stroke-width="1.35" fill="#ff5014" fill-opacity="0.8" stroke-linejoin="miter"/><path d="M259.25 74.43H262.25" stroke="#ff5014" stroke-width="1.15"/><path d="M269.63 72.21L272.43 76.86L266.83 76.86Z" stroke="#ff5014" stroke-width="1.35" fill="#ff5014" fill-opacity="0.8" stroke-linejoin="miter"/><path d="M268.13 74.51H271.13" stroke="#ff5014" stroke-width="1.15"/><path d="M273.93 72.14L276.73 76.79L271.13 76.79Z" stroke="#ff5014" stroke-width="1.35" fill="#ff5014" fill-opacity="0.8" stroke-linejoin="miter"/><path d="M272.43 74.44H275.43" stroke="#ff5014" stroke-width="1.15"/><path d="M278.15 72.69L280.95 77.34L275.35 77.34Z" stroke="#ff5014" stroke-width="1.35" fill="#ff5014" fill-opacity="0.8" stroke-linejoin="miter"/><path d="M276.65 74.99H279.65" stroke="#ff5014" stroke-width="1.15"/><path d="M282.28 72.49L285.08 77.14L279.48 77.14Z" stroke="#ff5014" stroke-width="1.35" fill="#ff5014" fill-opacity="0.8" stroke-linejoin="miter"/><path d="M280.78 74.79H283.78" stroke="#ff5014" stroke-width="1.15"/><path d="M290.33 72.53L293.13 77.18L287.53 77.18Z" stroke="#ff5014" stroke-width="1.35" fill="#ff5014" fill-opacity="0.8" stroke-linejoin="miter"/><path d="M288.83 74.83H291.83" stroke="#ff5014" stroke-width="1.15"/><path d="M294.25 72.39L297.05 77.04L291.45 77.04Z" stroke="#ff5014" stroke-width="1.35" fill="#ff5014" fill-opacity="0.8" stroke-linejoin="miter"/><path d="M292.75 74.69H295.75" stroke="#ff5014" stroke-width="1.15"/><path d="M301.89 72.34L304.69 76.99L299.09 76.99Z" stroke="#ff5014" stroke-width="1.35" fill="#ff5014" fill-opacity="0.8" stroke-linejoin="miter"/><path d="M300.39 74.64H303.39" stroke="#ff5014" stroke-width="1.15"/><path d="M305.63 72.98L308.43 77.63L302.83 77.63Z" stroke="#ff5014" stroke-width="1.35" fill="#ff5014" fill-opacity="0.8" stroke-linejoin="miter"/><path d="M304.13 75.28H307.13" stroke="#ff5014" stroke-width="1.15"/><path d="M309.30 72.36L312.10 77.01L306.50 77.01Z" stroke="#ff5014" stroke-width="1.35" fill="#ff5014" fill-opacity="0.8" stroke-linejoin="miter"/><path d="M307.80 74.66H310.80" stroke="#ff5014" stroke-width="1.15"/><path d="M312.93 72.80L315.73 77.45L310.13 77.45Z" stroke="#ff5014" stroke-width="1.35" fill="#ff5014" fill-opacity="0.8" stroke-linejoin="miter"/><path d="M311.43 75.10H314.43" stroke="#ff5014" stroke-width="1.15"/><path d="M316.50 72.45L319.30 77.10L313.70 77.10Z" stroke="#ff5014" stroke-width="1.35" fill="#ff5014" fill-opacity="0.8" stroke-linejoin="miter"/><path d="M315.00 74.75H318.00" stroke="#ff5014" stroke-width="1.15"/><path d="M320.02 72.82L322.82 77.47L317.22 77.47Z" stroke="#ff5014" stroke-width="1.35" fill="#ff5014" fill-opacity="0.8" stroke-linejoin="miter"/><path d="M318.52 75.12H321.52" stroke="#ff5014" stroke-width="1.15"/><path d="M323.50 72.55L326.30 77.20L320.70 77.20Z" stroke="#ff5014" stroke-width="1.35" fill="#ff5014" fill-opacity="0.8" stroke-linejoin="miter"/><path d="M322.00 74.85H325.00" stroke="#ff5014" stroke-width="1.15"/><path d="M330.31 72.40L333.11 77.05L327.51 77.05Z" stroke="#ff5014" stroke-width="1.35" fill="#ff5014" fill-opacity="0.8" stroke-linejoin="miter"/><path d="M328.81 74.70H331.81" stroke="#ff5014" stroke-width="1.15"/><path d="M333.66 72.63L336.46 77.28L330.86 77.28Z" stroke="#ff5014" stroke-width="1.35" fill="#ff5014" fill-opacity="0.8" stroke-linejoin="miter"/><path d="M332.16 74.93H335.16" stroke="#ff5014" stroke-width="1.15"/><path d="M336.96 72.58L339.76 77.23L334.16 77.23Z" stroke="#ff5014" stroke-width="1.35" fill="#ff5014" fill-opacity="0.8" stroke-linejoin="miter"/><path d="M335.46 74.88H338.46" stroke="#ff5014" stroke-width="1.15"/><path d="M340.23 72.48L343.03 77.13L337.43 77.13Z" stroke="#ff5014" stroke-width="1.35" fill="#ff5014" fill-opacity="0.8" stroke-linejoin="miter"/><path d="M338.73 74.78H341.73" stroke="#ff5014" stroke-width="1.15"/><path d="M343.45 72.60L346.25 77.25L340.65 77.25Z" stroke="#ff5014" stroke-width="1.35" fill="#ff5014" fill-opacity="0.8" stroke-linejoin="miter"/><path d="M341.95 74.90H344.95" stroke="#ff5014" stroke-width="1.15"/><path d="M346.65 72.64L349.45 77.29L343.85 77.29Z" stroke="#ff5014" stroke-width="1.35" fill="#ff5014" fill-opacity="0.8" stroke-linejoin="miter"/><path d="M345.15 74.94H348.15" stroke="#ff5014" stroke-width="1.15"/><path d="M349.80 72.37L352.60 77.02L347.00 77.02Z" stroke="#ff5014" stroke-width="1.35" fill="#ff5014" fill-opacity="0.8" stroke-linejoin="miter"/><path d="M348.30 74.67H351.30" stroke="#ff5014" stroke-width="1.15"/><path d="M356.01 72.46L358.81 77.11L353.21 77.11Z" stroke="#ff5014" stroke-width="1.35" fill="#ff5014" fill-opacity="0.8" stroke-linejoin="miter"/><path d="M354.51 74.76H357.51" stroke="#ff5014" stroke-width="1.15"/><path d="M359.07 72.69L361.87 77.34L356.27 77.34Z" stroke="#ff5014" stroke-width="1.35" fill="#ff5014" fill-opacity="0.8" stroke-linejoin="miter"/><path d="M357.57 74.99H360.57" stroke="#ff5014" stroke-width="1.15"/><path d="M362.09 72.19L364.89 76.84L359.29 76.84Z" stroke="#ff5014" stroke-width="1.35" fill="#ff5014" fill-opacity="0.8" stroke-linejoin="miter"/><path d="M360.59 74.49H363.59" stroke="#ff5014" stroke-width="1.15"/><path d="M365.09 72.84L367.89 77.49L362.29 77.49Z" stroke="#ff5014" stroke-width="1.35" fill="#ff5014" fill-opacity="0.8" stroke-linejoin="miter"/><path d="M363.59 75.14H366.59" stroke="#ff5014" stroke-width="1.15"/><path d="M368.05 72.50L370.85 77.15L365.25 77.15Z" stroke="#ff5014" stroke-width="1.35" fill="#ff5014" fill-opacity="0.8" stroke-linejoin="miter"/><path d="M366.55 74.80H369.55" stroke="#ff5014" stroke-width="1.15"/><path d="M370.99 72.70L373.79 77.35L368.19 77.35Z" stroke="#ff5014" stroke-width="1.35" fill="#ff5014" fill-opacity="0.8" stroke-linejoin="miter"/><path d="M369.49 75.00H372.49" stroke="#ff5014" stroke-width="1.15"/><path d="M373.90 72.63L376.70 77.28L371.10 77.28Z" stroke="#ff5014" stroke-width="1.35" fill="#ff5014" fill-opacity="0.8" stroke-linejoin="miter"/><path d="M372.40 74.93H375.40" stroke="#ff5014" stroke-width="1.15"/></g>
<g><path d="M95.85 127.41L98.63 130.19L95.85 132.97L93.07 130.19Z" stroke="#000000" stroke-width="1.55" fill="none"/><path d="M94.35 130.19H97.35" stroke="#000000" stroke-width="1.15"/><path d="M110.25 102.90L113.03 105.68L110.25 108.46L107.47 105.68Z" stroke="#000000" stroke-width="1.55" fill="none"/><path d="M108.75 105.68H111.75" stroke="#000000" stroke-width="1.15"/><path d="M121.29 92.15L124.07 94.93L121.29 97.71L118.51 94.93Z" stroke="#000000" stroke-width="1.55" fill="none"/><path d="M119.79 94.93H122.79" stroke="#000000" stroke-width="1.15"/><path d="M130.60 88.42L133.38 91.20L130.60 93.98L127.82 91.20Z" stroke="#000000" stroke-width="1.55" fill="none"/><path d="M129.10 91.20H132.10" stroke="#000000" stroke-width="1.15"/><path d="M138.81 84.30L141.59 87.08L138.81 89.86L136.03 87.08Z" stroke="#000000" stroke-width="1.55" fill="none"/><path d="M137.31 87.08H140.31" stroke="#000000" stroke-width="1.15"/><path d="M146.23 81.38L149.01 84.16L146.23 86.94L143.45 84.16Z" stroke="#000000" stroke-width="1.55" fill="none"/><path d="M144.73 84.16H147.73" stroke="#000000" stroke-width="1.15"/><path d="M159.39 78.33L162.17 81.11L159.39 83.89L156.61 81.11Z" stroke="#000000" stroke-width="1.55" fill="none"/><path d="M157.89 81.11H160.89" stroke="#000000" stroke-width="1.15"/><path d="M165.36 77.22L168.14 80.00L165.36 82.78L162.58 80.00Z" stroke="#000000" stroke-width="1.55" fill="none"/><path d="M163.86 80.00H166.86" stroke="#000000" stroke-width="1.15"/><path d="M171.00 76.26L173.78 79.04L171.00 81.82L168.22 79.04Z" stroke="#000000" stroke-width="1.55" fill="none"/><path d="M169.50 79.04H172.50" stroke="#000000" stroke-width="1.15"/><path d="M176.36 75.68L179.14 78.46L176.36 81.24L173.58 78.46Z" stroke="#000000" stroke-width="1.55" fill="none"/><path d="M174.86 78.46H177.86" stroke="#000000" stroke-width="1.15"/><path d="M181.49 75.09L184.27 77.87L181.49 80.65L178.71 77.87Z" stroke="#000000" stroke-width="1.55" fill="none"/><path d="M179.99 77.87H182.99" stroke="#000000" stroke-width="1.15"/><path d="M186.40 75.02L189.18 77.80L186.40 80.58L183.62 77.80Z" stroke="#000000" stroke-width="1.55" fill="none"/><path d="M184.90 77.80H187.90" stroke="#000000" stroke-width="1.15"/><path d="M191.13 74.67L193.91 77.45L191.13 80.23L188.35 77.45Z" stroke="#000000" stroke-width="1.55" fill="none"/><path d="M189.63 77.45H192.63" stroke="#000000" stroke-width="1.15"/><path d="M200.11 73.79L202.89 76.57L200.11 79.35L197.33 76.57Z" stroke="#000000" stroke-width="1.55" fill="none"/><path d="M198.61 76.57H201.61" stroke="#000000" stroke-width="1.15"/><path d="M204.39 73.85L207.17 76.63L204.39 79.41L201.61 76.63Z" stroke="#000000" stroke-width="1.55" fill="none"/><path d="M202.89 76.63H205.89" stroke="#000000" stroke-width="1.15"/><path d="M208.54 73.68L211.32 76.46L208.54 79.24L205.76 76.46Z" stroke="#000000" stroke-width="1.55" fill="none"/><path d="M207.04 76.46H210.04" stroke="#000000" stroke-width="1.15"/><path d="M212.58 73.61L215.36 76.39L212.58 79.17L209.80 76.39Z" stroke="#000000" stroke-width="1.55" fill="none"/><path d="M211.08 76.39H214.08" stroke="#000000" stroke-width="1.15"/><path d="M216.52 73.03L219.30 75.81L216.52 78.59L213.74 75.81Z" stroke="#000000" stroke-width="1.55" fill="none"/><path d="M215.02 75.81H218.02" stroke="#000000" stroke-width="1.15"/><path d="M220.36 73.00L223.14 75.78L220.36 78.56L217.58 75.78Z" stroke="#000000" stroke-width="1.55" fill="none"/><path d="M218.86 75.78H221.86" stroke="#000000" stroke-width="1.15"/><path d="M224.10 72.79L226.88 75.57L224.10 78.35L221.32 75.57Z" stroke="#000000" stroke-width="1.55" fill="none"/><path d="M222.60 75.57H225.60" stroke="#000000" stroke-width="1.15"/><path d="M231.35 73.03L234.13 75.81L231.35 78.59L228.57 75.81Z" stroke="#000000" stroke-width="1.55" fill="none"/><path d="M229.85 75.81H232.85" stroke="#000000" stroke-width="1.15"/><path d="M234.86 72.81L237.64 75.59L234.86 78.37L232.08 75.59Z" stroke="#000000" stroke-width="1.55" fill="none"/><path d="M233.36 75.59H236.36" stroke="#000000" stroke-width="1.15"/><path d="M238.30 72.95L241.08 75.73L238.30 78.51L235.52 75.73Z" stroke="#000000" stroke-width="1.55" fill="none"/><path d="M236.80 75.73H239.80" stroke="#000000" stroke-width="1.15"/><path d="M241.68 72.58L244.46 75.36L241.68 78.14L238.90 75.36Z" stroke="#000000" stroke-width="1.55" fill="none"/><path d="M240.18 75.36H243.18" stroke="#000000" stroke-width="1.15"/><path d="M248.25 72.36L251.03 75.14L248.25 77.92L245.47 75.14Z" stroke="#000000" stroke-width="1.55" fill="none"/><path d="M246.75 75.14H249.75" stroke="#000000" stroke-width="1.15"/><path d="M251.45 72.74L254.23 75.52L251.45 78.30L248.67 75.52Z" stroke="#000000" stroke-width="1.55" fill="none"/><path d="M249.95 75.52H252.95" stroke="#000000" stroke-width="1.15"/><path d="M257.69 72.27L260.47 75.05L257.69 77.83L254.91 75.05Z" stroke="#000000" stroke-width="1.55" fill="none"/><path d="M256.19 75.05H259.19" stroke="#000000" stroke-width="1.15"/><path d="M260.74 72.34L263.52 75.12L260.74 77.90L257.96 75.12Z" stroke="#000000" stroke-width="1.55" fill="none"/><path d="M259.24 75.12H262.24" stroke="#000000" stroke-width="1.15"/><path d="M263.74 72.51L266.52 75.29L263.74 78.07L260.96 75.29Z" stroke="#000000" stroke-width="1.55" fill="none"/><path d="M262.24 75.29H265.24" stroke="#000000" stroke-width="1.15"/><path d="M266.70 72.79L269.48 75.57L266.70 78.35L263.92 75.57Z" stroke="#000000" stroke-width="1.55" fill="none"/><path d="M265.20 75.57H268.20" stroke="#000000" stroke-width="1.15"/><path d="M269.61 72.21L272.39 74.99L269.61 77.77L266.83 74.99Z" stroke="#000000" stroke-width="1.55" fill="none"/><path d="M268.11 74.99H271.11" stroke="#000000" stroke-width="1.15"/><path d="M272.49 72.44L275.27 75.22L272.49 78.00L269.71 75.22Z" stroke="#000000" stroke-width="1.55" fill="none"/><path d="M270.99 75.22H273.99" stroke="#000000" stroke-width="1.15"/><path d="M275.33 72.51L278.11 75.29L275.33 78.07L272.55 75.29Z" stroke="#000000" stroke-width="1.55" fill="none"/><path d="M273.83 75.29H276.83" stroke="#000000" stroke-width="1.15"/><path d="M280.89 72.31L283.67 75.09L280.89 77.87L278.11 75.09Z" stroke="#000000" stroke-width="1.55" fill="none"/><path d="M279.39 75.09H282.39" stroke="#000000" stroke-width="1.15"/><path d="M283.62 72.30L286.40 75.08L283.62 77.86L280.84 75.08Z" stroke="#000000" stroke-width="1.55" fill="none"/><path d="M282.12 75.08H285.12" stroke="#000000" stroke-width="1.15"/><path d="M286.32 72.11L289.10 74.89L286.32 77.67L283.54 74.89Z" stroke="#000000" stroke-width="1.55" fill="none"/><path d="M284.82 74.89H287.82" stroke="#000000" stroke-width="1.15"/><path d="M288.99 72.52L291.77 75.30L288.99 78.08L286.21 75.30Z" stroke="#000000" stroke-width="1.55" fill="none"/><path d="M287.49 75.30H290.49" stroke="#000000" stroke-width="1.15"/><path d="M291.62 72.15L294.40 74.93L291.62 77.71L288.84 74.93Z" stroke="#000000" stroke-width="1.55" fill="none"/><path d="M290.12 74.93H293.12" stroke="#000000" stroke-width="1.15"/><path d="M294.23 72.08L297.01 74.86L294.23 77.64L291.45 74.86Z" stroke="#000000" stroke-width="1.55" fill="none"/><path d="M292.73 74.86H295.73" stroke="#000000" stroke-width="1.15"/><path d="M296.80 72.08L299.58 74.86L296.80 77.64L294.02 74.86Z" stroke="#000000" stroke-width="1.55" fill="none"/><path d="M295.30 74.86H298.30" stroke="#000000" stroke-width="1.15"/><path d="M301.87 72.34L304.65 75.12L301.87 77.90L299.09 75.12Z" stroke="#000000" stroke-width="1.55" fill="none"/><path d="M300.37 75.12H303.37" stroke="#000000" stroke-width="1.15"/><path d="M304.37 72.43L307.15 75.21L304.37 77.99L301.59 75.21Z" stroke="#000000" stroke-width="1.55" fill="none"/><path d="M302.87 75.21H305.87" stroke="#000000" stroke-width="1.15"/><path d="M306.84 72.13L309.62 74.91L306.84 77.69L304.06 74.91Z" stroke="#000000" stroke-width="1.55" fill="none"/><path d="M305.34 74.91H308.34" stroke="#000000" stroke-width="1.15"/><path d="M309.28 72.27L312.06 75.05L309.28 77.83L306.50 75.05Z" stroke="#000000" stroke-width="1.55" fill="none"/><path d="M307.78 75.05H310.78" stroke="#000000" stroke-width="1.15"/><path d="M311.70 72.27L314.48 75.05L311.70 77.83L308.92 75.05Z" stroke="#000000" stroke-width="1.55" fill="none"/><path d="M310.20 75.05H313.20" stroke="#000000" stroke-width="1.15"/><path d="M314.10 72.05L316.88 74.83L314.10 77.61L311.32 74.83Z" stroke="#000000" stroke-width="1.55" fill="none"/><path d="M312.60 74.83H315.60" stroke="#000000" stroke-width="1.15"/><path d="M316.48 72.32L319.26 75.10L316.48 77.88L313.70 75.10Z" stroke="#000000" stroke-width="1.55" fill="none"/><path d="M314.98 75.10H317.98" stroke="#000000" stroke-width="1.15"/><path d="M321.16 72.66L323.94 75.44L321.16 78.22L318.38 75.44Z" stroke="#000000" stroke-width="1.55" fill="none"/><path d="M319.66 75.44H322.66" stroke="#000000" stroke-width="1.15"/><path d="M323.47 72.33L326.25 75.11L323.47 77.89L320.69 75.11Z" stroke="#000000" stroke-width="1.55" fill="none"/><path d="M321.97 75.11H324.97" stroke="#000000" stroke-width="1.15"/><path d="M325.77 72.58L328.55 75.36L325.77 78.14L322.99 75.36Z" stroke="#000000" stroke-width="1.55" fill="none"/><path d="M324.27 75.36H327.27" stroke="#000000" stroke-width="1.15"/><path d="M328.04 72.13L330.82 74.91L328.04 77.69L325.26 74.91Z" stroke="#000000" stroke-width="1.55" fill="none"/><path d="M326.54 74.91H329.54" stroke="#000000" stroke-width="1.15"/><path d="M332.53 72.21L335.31 74.99L332.53 77.77L329.75 74.99Z" stroke="#000000" stroke-width="1.55" fill="none"/><path d="M331.03 74.99H334.03" stroke="#000000" stroke-width="1.15"/><path d="M334.74 72.36L337.52 75.14L334.74 77.92L331.96 75.14Z" stroke="#000000" stroke-width="1.55" fill="none"/><path d="M333.24 75.14H336.24" stroke="#000000" stroke-width="1.15"/><path d="M339.12 72.25L341.90 75.03L339.12 77.81L336.34 75.03Z" stroke="#000000" stroke-width="1.55" fill="none"/><path d="M337.62 75.03H340.62" stroke="#000000" stroke-width="1.15"/><path d="M341.28 72.11L344.06 74.89L341.28 77.67L338.50 74.89Z" stroke="#000000" stroke-width="1.55" fill="none"/><path d="M339.78 74.89H342.78" stroke="#000000" stroke-width="1.15"/><path d="M343.43 72.24L346.21 75.02L343.43 77.80L340.65 75.02Z" stroke="#000000" stroke-width="1.55" fill="none"/><path d="M341.93 75.02H344.93" stroke="#000000" stroke-width="1.15"/><path d="M345.56 72.03L348.34 74.81L345.56 77.59L342.78 74.81Z" stroke="#000000" stroke-width="1.55" fill="none"/><path d="M344.06 74.81H347.06" stroke="#000000" stroke-width="1.15"/><path d="M347.68 72.26L350.46 75.04L347.68 77.82L344.90 75.04Z" stroke="#000000" stroke-width="1.55" fill="none"/><path d="M346.18 75.04H349.18" stroke="#000000" stroke-width="1.15"/><path d="M349.78 72.07L352.56 74.85L349.78 77.63L347.00 74.85Z" stroke="#000000" stroke-width="1.55" fill="none"/><path d="M348.28 74.85H351.28" stroke="#000000" stroke-width="1.15"/><path d="M351.86 71.99L354.64 74.77L351.86 77.55L349.08 74.77Z" stroke="#000000" stroke-width="1.55" fill="none"/><path d="M350.36 74.77H353.36" stroke="#000000" stroke-width="1.15"/><path d="M355.98 71.97L358.76 74.75L355.98 77.53L353.20 74.75Z" stroke="#000000" stroke-width="1.55" fill="none"/><path d="M354.48 74.75H357.48" stroke="#000000" stroke-width="1.15"/><path d="M358.02 72.35L360.80 75.13L358.02 77.91L355.24 75.13Z" stroke="#000000" stroke-width="1.55" fill="none"/><path d="M356.52 75.13H359.52" stroke="#000000" stroke-width="1.15"/><path d="M360.05 72.09L362.83 74.87L360.05 77.65L357.27 74.87Z" stroke="#000000" stroke-width="1.55" fill="none"/><path d="M358.55 74.87H361.55" stroke="#000000" stroke-width="1.15"/><path d="M362.06 72.55L364.84 75.33L362.06 78.11L359.28 75.33Z" stroke="#000000" stroke-width="1.55" fill="none"/><path d="M360.56 75.33H363.56" stroke="#000000" stroke-width="1.15"/><path d="M364.06 72.42L366.84 75.20L364.06 77.98L361.28 75.20Z" stroke="#000000" stroke-width="1.55" fill="none"/><path d="M362.56 75.20H365.56" stroke="#000000" stroke-width="1.15"/><path d="M366.05 72.56L368.83 75.34L366.05 78.12L363.27 75.34Z" stroke="#000000" stroke-width="1.55" fill="none"/><path d="M364.55 75.34H367.55" stroke="#000000" stroke-width="1.15"/><path d="M368.03 72.06L370.81 74.84L368.03 77.62L365.25 74.84Z" stroke="#000000" stroke-width="1.55" fill="none"/><path d="M366.53 74.84H369.53" stroke="#000000" stroke-width="1.15"/><path d="M371.94 72.44L374.72 75.22L371.94 78.00L369.16 75.22Z" stroke="#000000" stroke-width="1.55" fill="none"/><path d="M370.44 75.22H373.44" stroke="#000000" stroke-width="1.15"/><path d="M373.87 72.24L376.65 75.02L373.87 77.80L371.09 75.02Z" stroke="#000000" stroke-width="1.55" fill="none"/><path d="M372.37 75.02H375.37" stroke="#000000" stroke-width="1.15"/><path d="M375.80 72.26L378.58 75.04L375.80 77.82L373.02 75.04Z" stroke="#000000" stroke-width="1.55" fill="none"/><path d="M374.30 75.04H377.30" stroke="#000000" stroke-width="1.15"/><path d="M95.85 46.70L98.63 49.48L95.85 52.26L93.07 49.48Z" stroke="#000000" stroke-width="1.55" fill="none"/><path d="M94.35 49.48H97.35" stroke="#000000" stroke-width="1.15"/><path d="M110.25 58.23L113.03 61.01L110.25 63.79L107.47 61.01Z" stroke="#000000" stroke-width="1.55" fill="none"/><path d="M108.75 61.01H111.75" stroke="#000000" stroke-width="1.15"/><path d="M121.29 62.41L124.07 65.19L121.29 67.97L118.51 65.19Z" stroke="#000000" stroke-width="1.55" fill="none"/><path d="M119.79 65.19H122.79" stroke="#000000" stroke-width="1.15"/><path d="M130.60 64.75L133.38 67.53L130.60 70.31L127.82 67.53Z" stroke="#000000" stroke-width="1.55" fill="none"/><path d="M129.10 67.53H132.10" stroke="#000000" stroke-width="1.15"/><path d="M138.81 66.92L141.59 69.70L138.81 72.48L136.03 69.70Z" stroke="#000000" stroke-width="1.55" fill="none"/><path d="M137.31 69.70H140.31" stroke="#000000" stroke-width="1.15"/><path d="M146.23 68.09L149.01 70.87L146.23 73.65L143.45 70.87Z" stroke="#000000" stroke-width="1.55" fill="none"/><path d="M144.73 70.87H147.73" stroke="#000000" stroke-width="1.15"/><path d="M159.39 69.61L162.17 72.39L159.39 75.17L156.61 72.39Z" stroke="#000000" stroke-width="1.55" fill="none"/><path d="M157.89 72.39H160.89" stroke="#000000" stroke-width="1.15"/><path d="M165.36 69.94L168.14 72.72L165.36 75.50L162.58 72.72Z" stroke="#000000" stroke-width="1.55" fill="none"/><path d="M163.86 72.72H166.86" stroke="#000000" stroke-width="1.15"/><path d="M171.00 70.03L173.78 72.81L171.00 75.59L168.22 72.81Z" stroke="#000000" stroke-width="1.55" fill="none"/><path d="M169.50 72.81H172.50" stroke="#000000" stroke-width="1.15"/><path d="M176.36 70.61L179.14 73.39L176.36 76.17L173.58 73.39Z" stroke="#000000" stroke-width="1.55" fill="none"/><path d="M174.86 73.39H177.86" stroke="#000000" stroke-width="1.15"/><path d="M181.49 70.75L184.27 73.53L181.49 76.31L178.71 73.53Z" stroke="#000000" stroke-width="1.55" fill="none"/><path d="M179.99 73.53H182.99" stroke="#000000" stroke-width="1.15"/><path d="M186.40 70.85L189.18 73.63L186.40 76.41L183.62 73.63Z" stroke="#000000" stroke-width="1.55" fill="none"/><path d="M184.90 73.63H187.90" stroke="#000000" stroke-width="1.15"/><path d="M191.13 71.19L193.91 73.97L191.13 76.75L188.35 73.97Z" stroke="#000000" stroke-width="1.55" fill="none"/><path d="M189.63 73.97H192.63" stroke="#000000" stroke-width="1.15"/><path d="M200.11 71.60L202.89 74.38L200.11 77.16L197.33 74.38Z" stroke="#000000" stroke-width="1.55" fill="none"/><path d="M198.61 74.38H201.61" stroke="#000000" stroke-width="1.15"/><path d="M204.39 71.57L207.17 74.35L204.39 77.13L201.61 74.35Z" stroke="#000000" stroke-width="1.55" fill="none"/><path d="M202.89 74.35H205.89" stroke="#000000" stroke-width="1.15"/><path d="M208.54 71.37L211.32 74.15L208.54 76.93L205.76 74.15Z" stroke="#000000" stroke-width="1.55" fill="none"/><path d="M207.04 74.15H210.04" stroke="#000000" stroke-width="1.15"/><path d="M212.58 71.89L215.36 74.67L212.58 77.45L209.80 74.67Z" stroke="#000000" stroke-width="1.55" fill="none"/><path d="M211.08 74.67H214.08" stroke="#000000" stroke-width="1.15"/><path d="M216.52 71.78L219.30 74.56L216.52 77.34L213.74 74.56Z" stroke="#000000" stroke-width="1.55" fill="none"/><path d="M215.02 74.56H218.02" stroke="#000000" stroke-width="1.15"/><path d="M220.36 71.56L223.14 74.34L220.36 77.12L217.58 74.34Z" stroke="#000000" stroke-width="1.55" fill="none"/><path d="M218.86 74.34H221.86" stroke="#000000" stroke-width="1.15"/><path d="M224.10 71.64L226.88 74.42L224.10 77.20L221.32 74.42Z" stroke="#000000" stroke-width="1.55" fill="none"/><path d="M222.60 74.42H225.60" stroke="#000000" stroke-width="1.15"/><path d="M231.35 71.85L234.13 74.63L231.35 77.41L228.57 74.63Z" stroke="#000000" stroke-width="1.55" fill="none"/><path d="M229.85 74.63H232.85" stroke="#000000" stroke-width="1.15"/><path d="M234.86 71.75L237.64 74.53L234.86 77.31L232.08 74.53Z" stroke="#000000" stroke-width="1.55" fill="none"/><path d="M233.36 74.53H236.36" stroke="#000000" stroke-width="1.15"/><path d="M238.30 71.88L241.08 74.66L238.30 77.44L235.52 74.66Z" stroke="#000000" stroke-width="1.55" fill="none"/><path d="M236.80 74.66H239.80" stroke="#000000" stroke-width="1.15"/><path d="M241.68 72.13L244.46 74.91L241.68 77.69L238.90 74.91Z" stroke="#000000" stroke-width="1.55" fill="none"/><path d="M240.18 74.91H243.18" stroke="#000000" stroke-width="1.15"/><path d="M248.25 72.24L251.03 75.02L248.25 77.80L245.47 75.02Z" stroke="#000000" stroke-width="1.55" fill="none"/><path d="M246.75 75.02H249.75" stroke="#000000" stroke-width="1.15"/><path d="M251.45 72.10L254.23 74.88L251.45 77.66L248.67 74.88Z" stroke="#000000" stroke-width="1.55" fill="none"/><path d="M249.95 74.88H252.95" stroke="#000000" stroke-width="1.15"/><path d="M257.69 71.87L260.47 74.65L257.69 77.43L254.91 74.65Z" stroke="#000000" stroke-width="1.55" fill="none"/><path d="M256.19 74.65H259.19" stroke="#000000" stroke-width="1.15"/><path d="M260.74 72.13L263.52 74.91L260.74 77.69L257.96 74.91Z" stroke="#000000" stroke-width="1.55" fill="none"/><path d="M259.24 74.91H262.24" stroke="#000000" stroke-width="1.15"/><path d="M263.74 72.20L266.52 74.98L263.74 77.76L260.96 74.98Z" stroke="#000000" stroke-width="1.55" fill="none"/><path d="M262.24 74.98H265.24" stroke="#000000" stroke-width="1.15"/><path d="M266.70 72.19L269.48 74.97L266.70 77.75L263.92 74.97Z" stroke="#000000" stroke-width="1.55" fill="none"/><path d="M265.20 74.97H268.20" stroke="#000000" stroke-width="1.15"/><path d="M269.61 72.33L272.39 75.11L269.61 77.89L266.83 75.11Z" stroke="#000000" stroke-width="1.55" fill="none"/><path d="M268.11 75.11H271.11" stroke="#000000" stroke-width="1.15"/><path d="M272.49 72.10L275.27 74.88L272.49 77.66L269.71 74.88Z" stroke="#000000" stroke-width="1.55" fill="none"/><path d="M270.99 74.88H273.99" stroke="#000000" stroke-width="1.15"/><path d="M275.33 72.29L278.11 75.07L275.33 77.85L272.55 75.07Z" stroke="#000000" stroke-width="1.55" fill="none"/><path d="M273.83 75.07H276.83" stroke="#000000" stroke-width="1.15"/><path d="M280.89 72.05L283.67 74.83L280.89 77.61L278.11 74.83Z" stroke="#000000" stroke-width="1.55" fill="none"/><path d="M279.39 74.83H282.39" stroke="#000000" stroke-width="1.15"/><path d="M283.62 72.51L286.40 75.29L283.62 78.07L280.84 75.29Z" stroke="#000000" stroke-width="1.55" fill="none"/><path d="M282.12 75.29H285.12" stroke="#000000" stroke-width="1.15"/><path d="M286.32 72.07L289.10 74.85L286.32 77.63L283.54 74.85Z" stroke="#000000" stroke-width="1.55" fill="none"/><path d="M284.82 74.85H287.82" stroke="#000000" stroke-width="1.15"/><path d="M288.99 72.24L291.77 75.02L288.99 77.80L286.21 75.02Z" stroke="#000000" stroke-width="1.55" fill="none"/><path d="M287.49 75.02H290.49" stroke="#000000" stroke-width="1.15"/><path d="M291.62 72.46L294.40 75.24L291.62 78.02L288.84 75.24Z" stroke="#000000" stroke-width="1.55" fill="none"/><path d="M290.12 75.24H293.12" stroke="#000000" stroke-width="1.15"/><path d="M294.23 72.02L297.01 74.80L294.23 77.58L291.45 74.80Z" stroke="#000000" stroke-width="1.55" fill="none"/><path d="M292.73 74.80H295.73" stroke="#000000" stroke-width="1.15"/><path d="M296.80 72.19L299.58 74.97L296.80 77.75L294.02 74.97Z" stroke="#000000" stroke-width="1.55" fill="none"/><path d="M295.30 74.97H298.30" stroke="#000000" stroke-width="1.15"/><path d="M301.87 72.52L304.65 75.30L301.87 78.08L299.09 75.30Z" stroke="#000000" stroke-width="1.55" fill="none"/><path d="M300.37 75.30H303.37" stroke="#000000" stroke-width="1.15"/><path d="M304.37 72.30L307.15 75.08L304.37 77.86L301.59 75.08Z" stroke="#000000" stroke-width="1.55" fill="none"/><path d="M302.87 75.08H305.87" stroke="#000000" stroke-width="1.15"/><path d="M306.84 72.11L309.62 74.89L306.84 77.67L304.06 74.89Z" stroke="#000000" stroke-width="1.55" fill="none"/><path d="M305.34 74.89H308.34" stroke="#000000" stroke-width="1.15"/><path d="M309.28 72.24L312.06 75.02L309.28 77.80L306.50 75.02Z" stroke="#000000" stroke-width="1.55" fill="none"/><path d="M307.78 75.02H310.78" stroke="#000000" stroke-width="1.15"/><path d="M311.70 72.04L314.48 74.82L311.70 77.60L308.92 74.82Z" stroke="#000000" stroke-width="1.55" fill="none"/><path d="M310.20 74.82H313.20" stroke="#000000" stroke-width="1.15"/><path d="M314.10 72.05L316.88 74.83L314.10 77.61L311.32 74.83Z" stroke="#000000" stroke-width="1.55" fill="none"/><path d="M312.60 74.83H315.60" stroke="#000000" stroke-width="1.15"/><path d="M316.48 72.06L319.26 74.84L316.48 77.62L313.70 74.84Z" stroke="#000000" stroke-width="1.55" fill="none"/><path d="M314.98 74.84H317.98" stroke="#000000" stroke-width="1.15"/><path d="M321.16 72.12L323.94 74.90L321.16 77.68L318.38 74.90Z" stroke="#000000" stroke-width="1.55" fill="none"/><path d="M319.66 74.90H322.66" stroke="#000000" stroke-width="1.15"/><path d="M323.47 71.96L326.25 74.74L323.47 77.52L320.69 74.74Z" stroke="#000000" stroke-width="1.55" fill="none"/><path d="M321.97 74.74H324.97" stroke="#000000" stroke-width="1.15"/><path d="M325.77 72.07L328.55 74.85L325.77 77.63L322.99 74.85Z" stroke="#000000" stroke-width="1.55" fill="none"/><path d="M324.27 74.85H327.27" stroke="#000000" stroke-width="1.15"/><path d="M328.04 72.11L330.82 74.89L328.04 77.67L325.26 74.89Z" stroke="#000000" stroke-width="1.55" fill="none"/><path d="M326.54 74.89H329.54" stroke="#000000" stroke-width="1.15"/><path d="M332.53 72.53L335.31 75.31L332.53 78.09L329.75 75.31Z" stroke="#000000" stroke-width="1.55" fill="none"/><path d="M331.03 75.31H334.03" stroke="#000000" stroke-width="1.15"/><path d="M334.74 72.04L337.52 74.82L334.74 77.60L331.96 74.82Z" stroke="#000000" stroke-width="1.55" fill="none"/><path d="M333.24 74.82H336.24" stroke="#000000" stroke-width="1.15"/><path d="M339.12 71.97L341.90 74.75L339.12 77.53L336.34 74.75Z" stroke="#000000" stroke-width="1.55" fill="none"/><path d="M337.62 74.75H340.62" stroke="#000000" stroke-width="1.15"/><path d="M341.28 72.24L344.06 75.02L341.28 77.80L338.50 75.02Z" stroke="#000000" stroke-width="1.55" fill="none"/><path d="M339.78 75.02H342.78" stroke="#000000" stroke-width="1.15"/><path d="M343.43 72.27L346.21 75.05L343.43 77.83L340.65 75.05Z" stroke="#000000" stroke-width="1.55" fill="none"/><path d="M341.93 75.05H344.93" stroke="#000000" stroke-width="1.15"/><path d="M345.56 71.87L348.34 74.65L345.56 77.43L342.78 74.65Z" stroke="#000000" stroke-width="1.55" fill="none"/><path d="M344.06 74.65H347.06" stroke="#000000" stroke-width="1.15"/><path d="M347.68 72.49L350.46 75.27L347.68 78.05L344.90 75.27Z" stroke="#000000" stroke-width="1.55" fill="none"/><path d="M346.18 75.27H349.18" stroke="#000000" stroke-width="1.15"/><path d="M349.78 72.12L352.56 74.90L349.78 77.68L347.00 74.90Z" stroke="#000000" stroke-width="1.55" fill="none"/><path d="M348.28 74.90H351.28" stroke="#000000" stroke-width="1.15"/><path d="M351.86 71.80L354.64 74.58L351.86 77.36L349.08 74.58Z" stroke="#000000" stroke-width="1.55" fill="none"/><path d="M350.36 74.58H353.36" stroke="#000000" stroke-width="1.15"/><path d="M355.98 72.36L358.76 75.14L355.98 77.92L353.20 75.14Z" stroke="#000000" stroke-width="1.55" fill="none"/><path d="M354.48 75.14H357.48" stroke="#000000" stroke-width="1.15"/><path d="M358.02 72.09L360.80 74.87L358.02 77.65L355.24 74.87Z" stroke="#000000" stroke-width="1.55" fill="none"/><path d="M356.52 74.87H359.52" stroke="#000000" stroke-width="1.15"/><path d="M360.05 71.89L362.83 74.67L360.05 77.45L357.27 74.67Z" stroke="#000000" stroke-width="1.55" fill="none"/><path d="M358.55 74.67H361.55" stroke="#000000" stroke-width="1.15"/><path d="M362.06 72.22L364.84 75.00L362.06 77.78L359.28 75.00Z" stroke="#000000" stroke-width="1.55" fill="none"/><path d="M360.56 75.00H363.56" stroke="#000000" stroke-width="1.15"/><path d="M364.06 72.11L366.84 74.89L364.06 77.67L361.28 74.89Z" stroke="#000000" stroke-width="1.55" fill="none"/><path d="M362.56 74.89H365.56" stroke="#000000" stroke-width="1.15"/><path d="M366.05 72.05L368.83 74.83L366.05 77.61L363.27 74.83Z" stroke="#000000" stroke-width="1.55" fill="none"/><path d="M364.55 74.83H367.55" stroke="#000000" stroke-width="1.15"/><path d="M368.03 72.36L370.81 75.14L368.03 77.92L365.25 75.14Z" stroke="#000000" stroke-width="1.55" fill="none"/><path d="M366.53 75.14H369.53" stroke="#000000" stroke-width="1.15"/><path d="M371.94 72.22L374.72 75.00L371.94 77.78L369.16 75.00Z" stroke="#000000" stroke-width="1.55" fill="none"/><path d="M370.44 75.00H373.44" stroke="#000000" stroke-width="1.15"/><path d="M373.87 72.16L376.65 74.94L373.87 77.72L371.09 74.94Z" stroke="#000000" stroke-width="1.55" fill="none"/><path d="M372.37 74.94H375.37" stroke="#000000" stroke-width="1.15"/><path d="M375.80 72.07L378.58 74.85L375.80 77.63L373.02 74.85Z" stroke="#000000" stroke-width="1.55" fill="none"/><path d="M374.30 74.85H377.30" stroke="#000000" stroke-width="1.15"/></g>
<rect x="61.0" y="14.0" width="316.65" height="227.7" fill="none" stroke="#000" stroke-opacity="0.68" stroke-width="1.3"/>
<path d="M61.0 19.50h3.0M377.65 19.50h-3.0M61.0 47.25h3.0M377.65 47.25h-3.0M61.0 75.00h3.0M377.65 75.00h-3.0M61.0 102.75h3.0M377.65 102.75h-3.0M61.0 130.50h3.0M377.65 130.50h-3.0M61.0 158.25h3.0M377.65 158.25h-3.0M61.0 186.00h3.0M377.65 186.00h-3.0M61.0 213.75h3.0M377.65 213.75h-3.0M61.0 241.50h3.0M377.65 241.50h-3.0M61.10 241.7v-3.0M61.10 14.0v3.0M118.65 241.7v-3.0M118.65 14.0v3.0M176.20 241.7v-3.0M176.20 14.0v3.0M233.75 241.7v-3.0M233.75 14.0v3.0M291.30 241.7v-3.0M291.30 14.0v3.0M348.85 241.7v-3.0M348.85 14.0v3.0" stroke="#000" stroke-width="0.8" fill="none"/>
<path d="M331.5 185.5H363.7M331.5 183.9v3.2M363.7 183.9v3.2" stroke="#009a00" stroke-width="1.1" fill="none"/>
<path d="M344.70 182.80L350.10 188.20M344.70 188.20L350.10 182.80" stroke="#009a00" stroke-width="1.35" fill="none"/>
<path d="M331.5 197.4H363.7M331.5 195.8v3.2M363.7 195.8v3.2" stroke="#0000ff" stroke-width="1.1" fill="none"/>
<rect x="344.66" y="194.66" width="5.49" height="5.49" stroke="#0000ff" stroke-width="1.35" fill="none"/>
<path d="M331.5 209.4H363.7M331.5 207.8v3.2M363.7 207.8v3.2" stroke="#ff00ff" stroke-width="1.1" fill="none"/>
<circle cx="347.4" cy="209.4" r="2.79" stroke="#ff00ff" stroke-width="1.35" fill="none"/>
<path d="M331.5 221.3H363.7M331.5 219.70000000000002v3.2M363.7 219.70000000000002v3.2" stroke="#ff5014" stroke-width="1.1" fill="none"/>
<path d="M347.40 219.16L350.00 223.49L344.80 223.49Z" stroke="#ff5014" stroke-width="1.35" fill="#ff5014" fill-opacity="0.3" stroke-linejoin="miter"/>
<path d="M331.5 233.2H363.7M331.5 231.6v3.2M363.7 231.6v3.2" stroke="#000000" stroke-width="1.1" fill="none"/>
<path d="M347.40 230.61L349.99 233.20L347.40 235.79L344.81 233.20Z" stroke="#000000" stroke-width="1.55" fill="none"/>
</svg>
<div class="t yl" style="top:12.90px">1</div><div class="t yl" style="top:40.65px">0.5</div><div class="t yl" style="top:68.40px">0</div><div class="t yl" style="top:96.15px">-0.5</div><div class="t yl" style="top:123.90px">-1</div><div class="t yl" style="top:151.65px">-1.5</div><div class="t yl" style="top:179.40px">-2</div><div class="t yl" style="top:207.15px">-2.5</div><div class="t yl" style="top:234.90px">-3</div><div class="t xl" style="left:42.70px">0</div><div class="t xl" style="left:100.25px">0.2</div><div class="t xl" style="left:157.80px">0.4</div><div class="t xl" style="left:215.35px">0.6</div><div class="t xl" style="left:272.90px">0.8</div><div class="t xl" style="left:330.45px">1</div><div class="t lg" style="top:178.40px">1.08<i>T<span class="sb">pc</span></i></div><div class="t lg" style="top:190.30px">1.20<i>T<span class="sb">pc</span></i></div><div class="t lg" style="top:202.30px">1.35<i>T<span class="sb">pc</span></i></div><div class="t lg" style="top:214.20px">1.69<i>T<span class="sb">pc</span></i></div><div class="t lg" style="top:226.10px">2.07<i>T<span class="sb">pc</span></i></div><div class="t big" style="left:205.0px;top:38.9px">v<span class="sb0">0</span><b class="sp">6</b></div><div class="t big" style="left:205.0px;top:149.6px">v<span class="sb0">0</span><b class="sp sp3">3*</b></div><div class="t xt">r<span>T</span><span class="sbx">pc</span></div><div class="t yt">v<span class="sby">0</span>(<i>r</i>,<i>T</i>) / <i>T<span class="sby2">pc</span></i></div>
</div>
</body></html>
